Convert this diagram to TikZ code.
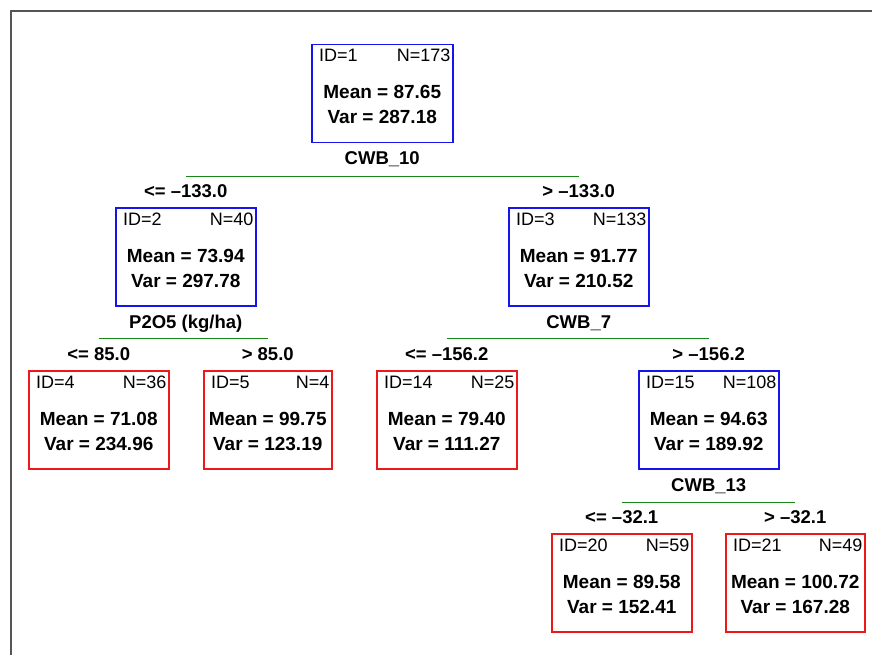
\documentclass[tikz,border=0pt]{standalone}
\usepackage{fontspec}
\setmainfont{Liberation Sans}
\usetikzlibrary{calc}

\definecolor{innerblue}{RGB}{20,20,235}
\definecolor{leafred}{RGB}{235,25,25}
\definecolor{splitgreen}{RGB}{25,135,25}
\definecolor{framegray}{RGB}{85,85,85}

\tikzset{
  treebox/.style={draw=#1, line width=1.5pt, rectangle, inner sep=0pt,
    minimum height=98pt, anchor=north west},
  smalltxt/.style={inner sep=0pt, font=\fontsize{18}{20}\selectfont},
  boldtxt/.style={inner sep=0pt, font=\fontsize{19}{21}\selectfont\bfseries, anchor=base},
  splittxt/.style={inner sep=0pt, font=\fontsize{18.5}{20}\selectfont\bfseries, anchor=base},
  splitline/.style={draw=splitgreen, line width=1.5pt},
}

% box of one tree node: #1 name, #2 left, #3 top, #4 width, #5 colour
\newcommand\treebox[5]{%
  \node[treebox=#5, minimum width=#4pt] (#1) at (#2,#3) {};
}
% texts of one tree node: #1 name, #2 id, #3 n, #4 mean, #5 var
\newcommand\treetext[5]{%
  \node[smalltxt, anchor=base west] (#1id) at ($(#1.north west)+(8,18)$) {ID=#2};
  \node[smalltxt, anchor=base east] (#1n) at ($(#1.north east)+(-3,18)$) {N=#3};
  \node[boldtxt] (#1mean) at ($(#1.north)+(0,55)$) {Mean = #4};
  \node[boldtxt] (#1var) at ($(#1.north)+(0,80)$) {Var = #5};
}

% #1 parent, #2 left child, #3 right child, #4 variable, #5 left rule,
% #6 right rule, #7 drop of the green line below the parent box
\newcommand\treesplit[7]{%
  \node[splittxt] (#1split) at ($(#1.south)+(0,21.5)$) {#4};
  \coordinate (#1cut) at ($(#1.south)+(0,#7)$);
  \draw[splitline] (#2.north |- #1cut) -- (#3.north |- #1cut);
  \node[splittxt] (#1lrule) at ($(#2.north)+(0,-9.5)$) {#5};
  \node[splittxt] (#1rrule) at ($(#3.north)+(0,-9.5)$) {#6};
}

\begin{document}
\begin{tikzpicture}[x=1pt, y=-1pt]
  \useasboundingbox (0,0) rectangle (872,655);

  % outer frame
  \draw[framegray, line width=2pt] (11,655) -- (11,11) -- (872,11);

  % boxes of the regression tree
  \treebox{t1}{311}{44}{141}{innerblue}
  \treebox{t2}{115}{207}{140}{innerblue}
  \treebox{t3}{508}{207}{140}{innerblue}
  \treebox{t4}{28}{370}{140}{leafred}
  \treebox{t5}{203}{370}{128}{leafred}
  \treebox{t14}{376}{370}{140}{leafred}
  \treebox{t15}{638}{370}{140}{innerblue}
  \treebox{t20}{551}{533}{140}{leafred}
  \treebox{t21}{725}{533}{139}{leafred}

  % their statistics
  \treetext{t1}{1}{173}{87.65}{287.18}
  \treetext{t2}{2}{40}{73.94}{297.78}
  \treetext{t3}{3}{133}{91.77}{210.52}
  \treetext{t4}{4}{36}{71.08}{234.96}
  \treetext{t5}{5}{4}{99.75}{123.19}
  \treetext{t14}{14}{25}{79.40}{111.27}
  \treetext{t15}{15}{108}{94.63}{189.92}
  \treetext{t20}{20}{59}{89.58}{152.41}
  \treetext{t21}{21}{49}{100.72}{167.28}

  % splits
  \treesplit{t1}{t2}{t3}{CWB\_10}{<= –133.0}{> –133.0}{33}
  \treesplit{t2}{t4}{t5}{P2O5 (kg/ha)}{<= 85.0}{> 85.0}{32}
  \treesplit{t3}{t14}{t15}{CWB\_7}{<= –156.2}{> –156.2}{32}
  \treesplit{t15}{t20}{t21}{CWB\_13}{<= –32.1}{> –32.1}{33}
\end{tikzpicture}
\end{document}
